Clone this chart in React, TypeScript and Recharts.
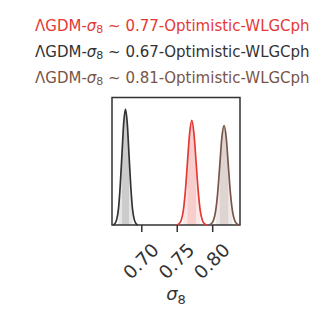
import { Area, ComposedChart, Line, ReferenceArea, XAxis, YAxis } from 'recharts'

// Marginalised 1D posteriors of sigma_8 (peak-scaled density).
const X_DOMAIN: [number, number] = [0.658, 0.8385]
const X_TICKS = [0.7, 0.75, 0.8]
const TICK_LABELS = ['0.70', '0.75', '0.80']

const LABELS = [
  { name: '0.77', color: '#e53935' },
  { name: '0.67', color: '#333333' },
  { name: '0.81', color: '#795548' },
]

const RED_X = [0.749, 0.7525, 0.7555, 0.7585, 0.7615, 0.7645, 0.7675, 0.7705, 0.7735, 0.7765, 0.7795, 0.7825, 0.7855, 0.7885, 0.792]
const RED_Y = [0, 0.01, 0.035, 0.11, 0.27, 0.5, 0.72, 0.82, 0.72, 0.5, 0.27, 0.11, 0.035, 0.01, 0]

const BLACK_X = [0.6595, 0.662, 0.6645, 0.667, 0.6695, 0.672, 0.6745, 0.677, 0.6795, 0.682, 0.6845, 0.687, 0.6895, 0.692, 0.6945]
const BLACK_Y = [0, 0.01, 0.04, 0.12, 0.3, 0.55, 0.8, 0.91, 0.8, 0.55, 0.3, 0.12, 0.04, 0.01, 0]

const BROWN_X = [0.7945, 0.798, 0.801, 0.804, 0.807, 0.81, 0.813, 0.816, 0.819, 0.822, 0.825, 0.828, 0.831, 0.834, 0.8375]
const BROWN_Y = [0, 0.01, 0.035, 0.105, 0.25, 0.47, 0.69, 0.78, 0.69, 0.47, 0.25, 0.105, 0.035, 0.01, 0]

// 68% / 95% limits
const RED_LIMITS = { in: [0.7645, 0.7765], out: [0.7585, 0.7825] }
const BLACK_LIMITS = { in: [0.672, 0.682], out: [0.667, 0.687] }
const BROWN_LIMITS = { in: [0.81, 0.822], out: [0.804, 0.828] }

const toRows = (xs: number[], ys: number[]) => xs.map((x, i) => ({ x, y: ys[i] }))
const band = (rows: { x: number; y: number }[], [a, b]: number[]) =>
  rows.filter((r) => r.x >= a - 1e-9 && r.x <= b + 1e-9)

const CURVES = [
  { key: 'red', rows: toRows(RED_X, RED_Y), limits: RED_LIMITS, color: '#e53935' },
  { key: 'black', rows: toRows(BLACK_X, BLACK_Y), limits: BLACK_LIMITS, color: '#333333' },
  { key: 'brown', rows: toRows(BROWN_X, BROWN_Y), limits: BROWN_LIMITS, color: '#795548' },
]

const FONT = 'DejaVu Sans'

function Tick(props: any) {
  const { x, y, index } = props
  return (
    <g transform={`translate(${x - 1},${y + 29})`}>
      <text
        transform="rotate(-45)"
        textAnchor="middle"
        dy="0.36em"
        fontFamily={FONT}
        fontSize={18.5}
        fill="#333"
      >
        {TICK_LABELS[index]}
      </text>
    </g>
  )
}

function AxisLabel(props: any) {
  const { viewBox } = props
  const cx = viewBox.x + viewBox.width / 2
  return (
    <text x={cx} y={300} textAnchor="middle" fontFamily={FONT} fontSize={18} fill="#333">
      <tspan fontStyle="italic">σ</tspan>
      <tspan fontSize={13} dy={4}>8</tspan>
    </text>
  )
}

export default function App() {
  return (
    <div style={{ position: 'absolute', left: 0, top: 0, width: 327, height: 317, background: '#fff' }}>
      <div style={{ position: 'absolute', left: 35, top: 15, fontFamily: FONT, fontSize: 15, lineHeight: '22px' }}>
        {LABELS.map((l) => (
          <div key={l.name} style={{ color: l.color, whiteSpace: 'nowrap' }}>
            ΛGDM-<i>σ</i>
            <sub style={{ fontSize: 11, verticalAlign: '-2px' }}>8</sub> ~ {l.name}-Optimistic-WLGCph
          </div>
        ))}
      </div>
      <ComposedChart
        width={327}
        height={317}
        margin={{ top: 97.5, left: 112, right: 87, bottom: 32 }}
        style={{ position: 'absolute', left: 0, top: 0 }}
      >
        <XAxis
          type="number"
          dataKey="x"
          domain={X_DOMAIN}
          ticks={X_TICKS}
          allowDataOverflow
          height={60}
          tickSize={7}
          tickMargin={0}
          tick={<Tick />}
          axisLine={false}
          tickLine={{ stroke: '#333', strokeWidth: 1.5 }}
          label={<AxisLabel />}
        />
        <YAxis type="number" domain={[0, 1]} hide />
        {CURVES.map((c) => (
          <Area
            key={c.key + '-out'}
            data={band(c.rows, c.limits.out)}
            dataKey="y"
            type="monotone"
            stroke="none"
            fill={c.color}
            fillOpacity={0.12}
            isAnimationActive={false}
          />
        ))}
        {CURVES.map((c) => (
          <Area
            key={c.key + '-in'}
            data={band(c.rows, c.limits.in)}
            dataKey="y"
            type="monotone"
            stroke="none"
            fill={c.color}
            fillOpacity={0.14}
            isAnimationActive={false}
          />
        ))}
        {CURVES.map((c) => (
          <Line
            key={c.key}
            data={c.rows}
            dataKey="y"
            type="monotone"
            stroke={c.color}
            strokeWidth={1.7}
            dot={false}
            isAnimationActive={false}
          />
        ))}
        <ReferenceArea
          x1={X_DOMAIN[0]}
          x2={X_DOMAIN[1]}
          y1={0}
          y2={1}
          fill="none"
          stroke="#333"
          strokeWidth={1.5}
          ifOverflow="visible"
        />
      </ComposedChart>
    </div>
  )
}
